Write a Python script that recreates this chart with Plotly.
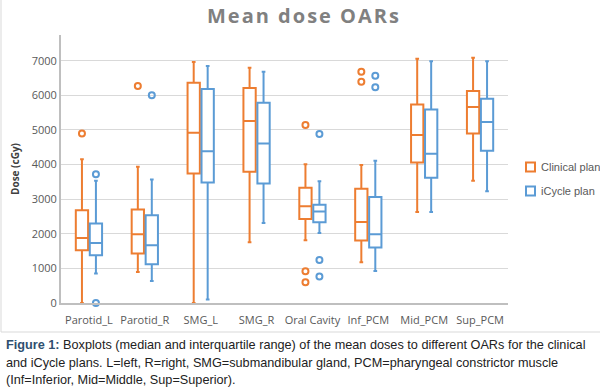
import plotly.graph_objects as go

categories = ["Parotid_L", "Parotid_R", "SMG_L", "SMG_R", "Oral Cavity", "Inf_PCM", "Mid_PCM", "Sup_PCM"]

clin_low = [0, 897, 0, 1756, 1814, 1177, 2632, 3529]
clin_q1 = [1525, 1428, 3743, 3790, 2430, 1805, 4061, 4900]
clin_med = [1880, 1987, 4918, 5256, 2797, 2343, 4851, 5661]
clin_q3 = [2680, 2700, 6364, 6211, 3327, 3298, 5739, 6124]
clin_up = [4157, 3935, 6963, 6798, 4012, 3990, 7058, 7087]
clin_out_cat = [0, 1, 4, 4, 4, 5, 5]
clin_out_val = [4900, 6268, 5140, 917, 599, 6683, 6393]

icy_low = [850, 636, 98, 2314, 2025, 926, 2632, 3231]
icy_q1 = [1380, 1119, 3483, 3454, 2334, 1602, 3616, 4397]
icy_med = [1736, 1669, 4388, 4611, 2643, 1987, 4310, 5227]
icy_q3 = [2297, 2537, 6182, 5785, 2836, 3066, 5594, 5901]
icy_up = [3530, 3569, 6847, 6683, 3520, 4108, 6983, 6983]
icy_out_cat = [0, 0, 1, 4, 4, 4, 5, 5]
icy_out_val = [3722, 0, 6000, 4880, 1245, 763, 6567, 6231]

y_ticks = [0, 1000, 2000, 3000, 4000, 5000, 6000, 7000]

ORANGE = "#ED7D31"
BLUE = "#5B9BD5"
OFF = 0.125

L, R, T, B = 61, 508, 35, 303
PW, PH = R - L, B - T

def px(x):
    return (x - L) / PW

def py(y):
    return (B - y) / PH

fig = go.Figure()
series = [
    ("Clinical plan", ORANGE, -OFF, clin_low, clin_q1, clin_med, clin_q3, clin_up, clin_out_cat, clin_out_val),
    ("iCycle plan", BLUE, OFF, icy_low, icy_q1, icy_med, icy_q3, icy_up, icy_out_cat, icy_out_val),
]
legend_y = [167, 191]
for k, (name, col, off, lo, q1, med, q3, up, oc, ov) in enumerate(series):
    fig.add_trace(go.Box(
        name=name, x=[i + off for i in range(len(categories))],
        q1=q1, median=med, q3=q3, lowerfence=lo, upperfence=up,
        width=0.22, whiskerwidth=0.3, fillcolor="white",
        line=dict(color=col, width=2), boxpoints=False,
        showlegend=False, hoverinfo="skip",
    ))
    fig.add_trace(go.Scatter(
        x=[c + off for c in oc], y=ov, mode="markers", showlegend=False,
        marker=dict(symbol="circle-open", size=6, color=col, line=dict(width=2, color=col)),
        cliponaxis=False, hoverinfo="skip",
    ))
    # legend entry
    ly = legend_y[k]
    fig.add_shape(type="rect", xref="paper", yref="paper",
                  x0=px(526), x1=px(535), y0=py(ly + 4.5), y1=py(ly - 4.5),
                  line=dict(color=col, width=2), fillcolor="white")
    fig.add_annotation(text=name, x=px(539), y=py(ly), xref="paper", yref="paper",
                       showarrow=False, xanchor="left", yanchor="middle",
                       font=dict(size=11, color="#595959", family="Liberation Sans, sans-serif"))

fig.update_layout(
    width=600, height=389,
    margin=dict(l=L, r=600 - R, t=T, b=389 - B, autoexpand=False),
    paper_bgcolor="white", plot_bgcolor="white",
    boxmode="overlay", showlegend=False,
    font=dict(family="Open Sans, sans-serif", color="#595959", size=11),
    xaxis=dict(range=[-0.5, 7.5], tickvals=list(range(len(categories))), ticktext=categories,
               showgrid=False, zeroline=False, showline=True, linecolor="#bfbfbf", linewidth=2,
               ticks="", tickangle=0, automargin=False, ticklabelstandoff=6,
               tickfont=dict(size=11, color="#595959")),
    yaxis=dict(range=[0, 7744], tickvals=y_ticks, showgrid=True, gridcolor="#d9d9d9", gridwidth=1,
               zeroline=False, showline=True, linecolor="#bfbfbf", linewidth=2, ticks="",
               automargin=False, tickfont=dict(size=11, color="#595959"),
               title=dict(text="<b>Dose (cGy)</b>", font=dict(size=10, color="#404040"), standoff=10)),
)

hs = "\u200a"
title = hs.join(list("Mean dose OARs"))
fig.add_annotation(text="<b>" + title + "</b>", x=px(303), y=py(15), xref="paper", yref="paper",
                   showarrow=False, font=dict(size=20, color="#808080", family="Open Sans, sans-serif"),
                   xanchor="center", yanchor="middle")

fig.add_shape(type="rect", xref="paper", yref="paper", x0=px(1), x1=px(602), y0=py(332), y1=py(-2),
              line=dict(color="#d9d9d9", width=1), fillcolor="rgba(0,0,0,0)", layer="below")

cap_lines = [
    "<b><span style='color:#2f4f6f'>Figure 1:</span></b> Boxplots (median and interquartile range) of the mean doses to different OARs for the clinical",
    "and iCycle plans. L=left, R=right, SMG=submandibular gland, PCM=pharyngeal constrictor muscle",
    "(Inf=Inferior, Mid=Middle, Sup=Superior).",
]
for j, (t, yy) in enumerate(zip(cap_lines, [345, 363, 380])):
    fig.add_annotation(text=t, x=px(4), y=py(yy), xref="paper", yref="paper", showarrow=False,
                       xanchor="left", yanchor="middle",
                       font=dict(size=12.7, color="#222222", family="Liberation Sans, sans-serif"))

fig.write_html("out.html", config={"displayModeBar": False},
               post_script="document.body.style.margin='0';document.body.style.overflow='hidden';")
